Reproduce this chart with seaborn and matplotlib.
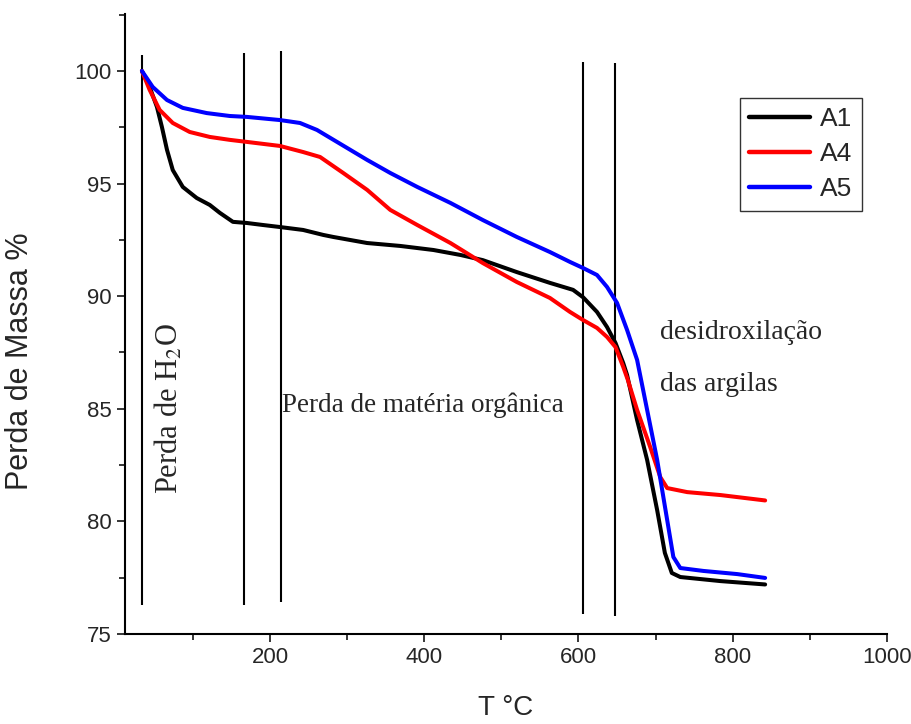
import numpy as np
import pandas as pd
import matplotlib
matplotlib.use("Agg")
import matplotlib.pyplot as plt
from matplotlib.ticker import MultipleLocator
import seaborn as sns

# ---- data ----
a1_t = [34, 44, 53.5, 60, 66.5, 74, 87, 105, 122, 135, 152, 170, 191, 213, 243, 269, 282, 326,
        369, 412, 447, 476, 520, 563, 593, 606, 624, 637, 648, 658, 663, 676, 689, 702, 712,
        721, 732, 784, 842]
a1_m = [100.0, 99.29, 98.4, 97.5, 96.5, 95.6, 94.85, 94.36, 94.05, 93.7, 93.3, 93.25, 93.16, 93.07,
        92.94, 92.72, 92.63, 92.36, 92.23, 92.05, 91.83, 91.6, 91.07, 90.59, 90.28, 89.95, 89.3,
        88.63, 87.92, 87.03, 86.5, 84.5, 82.73, 80.5, 78.6, 77.71, 77.53, 77.35, 77.2]

a4_t = [34, 44, 57, 74, 96, 122, 148, 170, 213, 243, 265, 295, 326, 356, 391, 434, 476, 520,
        563, 589, 606, 624, 637, 648, 658, 664, 676, 693, 706, 715, 741, 784, 842]
a4_m = [100.0, 99.16, 98.27, 97.69, 97.29, 97.07, 96.94, 96.85, 96.67, 96.4, 96.18, 95.47, 94.72,
        93.83, 93.16, 92.36, 91.47, 90.63, 89.92, 89.3, 88.94, 88.59, 88.19, 87.74, 86.86, 86.28,
        84.95, 83.3, 81.97, 81.48, 81.3, 81.17, 80.93]

a5_t = [34, 48, 66.5, 87, 118, 148, 170, 213, 239, 261, 282, 326, 356, 391, 434, 476, 520, 563,
        589, 606, 624, 637, 650, 663, 676, 689, 702, 715, 723, 732, 762, 806, 842]
a5_m = [100.0, 99.29, 98.71, 98.36, 98.13, 98.0, 97.96, 97.82, 97.69, 97.38, 96.95, 96.05, 95.47,
        94.85, 94.14, 93.38, 92.63, 91.96, 91.52, 91.25, 90.94, 90.41, 89.7, 88.5, 87.17, 84.95,
        82.73, 80.06, 78.42, 77.93, 77.8, 77.66, 77.49]

series_names = ["A1", "A4", "A5"]
series_colors = ["#000000", "#ff0000", "#0000ff"]

# region boundary lines (x, y bottom, y top)
region_x = [34, 166, 214, 606, 647]
region_ybot = [76.3, 76.3, 76.4, 75.9, 75.8]
region_ytop = [100.7, 100.8, 100.9, 100.4, 100.35]

x_ticks = [200, 400, 600, 800, 1000]
y_ticks = [75, 80, 85, 90, 95, 100]

# ---- build long table ----
frames = []
for name, t, m in zip(series_names, [a1_t, a4_t, a5_t], [a1_m, a4_m, a5_m]):
    frames.append(pd.DataFrame({"T": t, "mass": m, "amostra": name}))
df = pd.concat(frames, ignore_index=True)

sns.set_style("ticks")
plt.rcParams["font.family"] = ["Liberation Sans", "DejaVu Sans"]
plt.rcParams["mathtext.fontset"] = "stix"

fig = plt.figure(figsize=(9.12, 7.24), dpi=100)
ax = fig.add_axes([0.137, 0.1243, 0.8356, 0.8564])

ax.vlines(region_x, region_ybot, region_ytop, colors="black", linewidth=1.5, zorder=1)

sns.lineplot(data=df, x="T", y="mass", hue="amostra", palette=series_colors,
             hue_order=series_names, linewidth=2.9, ax=ax, sort=False,
             estimator=None, zorder=3)
for ln in ax.get_lines():
    ln.set_solid_joinstyle("round")
    ln.set_solid_capstyle("round")

ax.set_xlim(12, 1000)
ax.set_ylim(75, 102.53)
ax.set_xticks(x_ticks)
ax.set_yticks(y_ticks)
ax.xaxis.set_minor_locator(MultipleLocator(100))
ax.yaxis.set_minor_locator(MultipleLocator(2.5))
ax.tick_params(axis="both", which="major", length=6, width=1.3, labelsize=16, direction="out")
ax.tick_params(axis="both", which="minor", length=4, width=1.3, direction="out")
for s in ["top", "right"]:
    ax.spines[s].set_visible(False)
for s in ["left", "bottom"]:
    ax.spines[s].set_linewidth(1.5)
    ax.spines[s].set_color("black")

ax.set_xlabel("T °C", fontsize=20)
ax.set_ylabel("Perda de Massa %", fontsize=22)
ax.xaxis.set_label_coords(0.5, -0.098)
ax.yaxis.set_label_coords(-0.118, 0.44)

leg = ax.legend(loc="upper right", bbox_to_anchor=(0.967, 0.8645), borderaxespad=0,
                fontsize=19, frameon=True, fancybox=False, edgecolor="black",
                handlelength=2.3, borderpad=0.35, labelspacing=0.42, handletextpad=0.4)
leg.get_frame().set_linewidth(1.0)
for line in leg.get_lines():
    line.set_linewidth(3.2)

serif = ["Liberation Serif", "DejaVu Serif"]
ax.text(70, 85.0, "Perda de H$_2$O", rotation=90, fontsize=22, family=serif,
        ha="center", va="center")
ax.text(216, 85.15, "Perda de matéria orgânica", fontsize=19.5, family=serif,
        ha="left", va="center")
ax.text(706, 88.4, "desidroxilação", fontsize=20, family=serif, ha="left", va="center")
ax.text(706, 86.1, "das argilas", fontsize=20, family=serif, ha="left", va="center")

fig.savefig("out.png", dpi=100)
